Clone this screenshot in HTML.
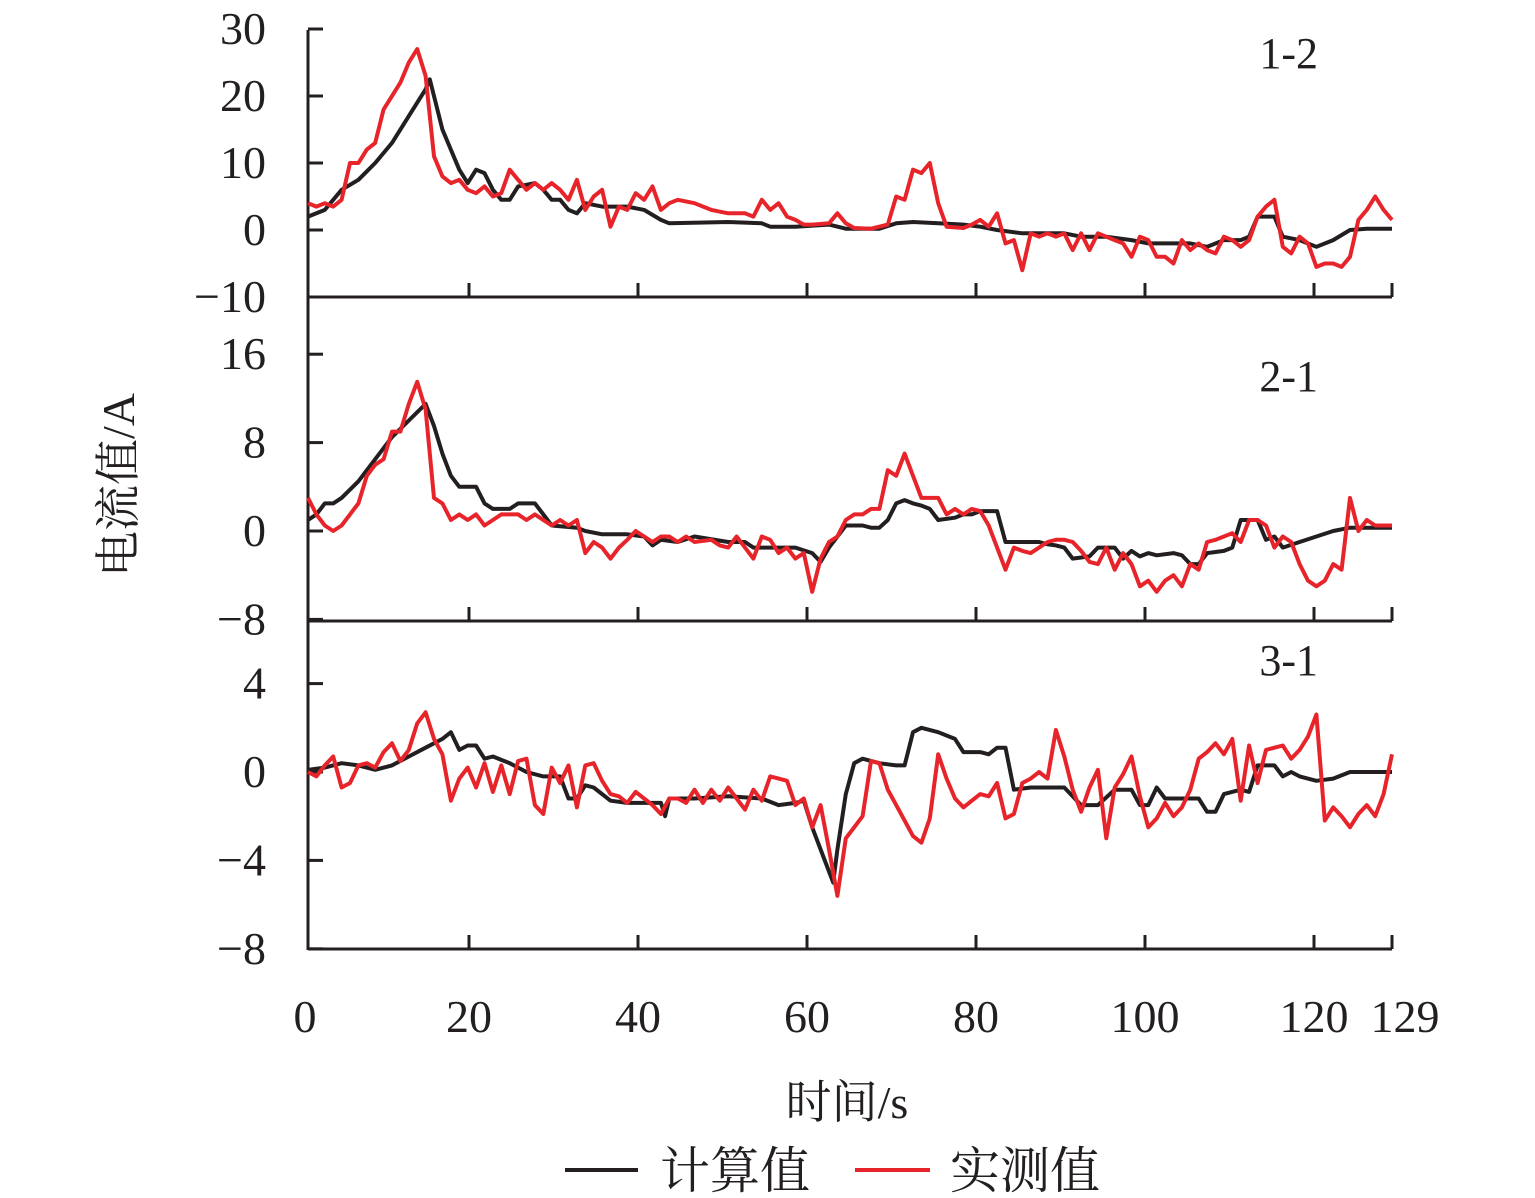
<!DOCTYPE html>
<html><head><meta charset="utf-8"><style>
html,body{margin:0;padding:0;background:#fff;}
svg{display:block;}
text{font-family:"Liberation Serif","Noto Serif CJK SC",serif;fill:#231f20;}
</style></head><body>
<svg id="chart" width="1535" height="1198" viewBox="0 0 1535 1198" xmlns="http://www.w3.org/2000/svg"></svg>
<script>
const xTicks=[0,20,40,60,80,100,120,129];
const p1Ticks=[30,20,10,0,-10];
const p2Ticks=[16,8,0,-8];
const p3Ticks=[4,0,-4,-8];
const panelLabels=["1-2","2-1","3-1"];

const p1CalcT=[0,2,4,6,8,10,12,14,14.5,16,18,19,20,21,22,23,24,25,27,28,29,30,31,32,33,35,38,40,42,43,50,54,55,58,62,64,68,70,72,75,78,80,82,85,90,92,95,98,100,105,107,109,111,112,113,115,116,118,120,122,124,126,129];
const p1CalcV=[2,3,6,7.5,10,13,17,21,22.5,15,9,7,9,8.5,6,4.5,4.5,6.5,7,6,4.5,4.5,3,2.5,4,3.5,3.5,3,1.5,1,1.2,1,0.5,0.5,0.8,0.2,0.2,1,1.2,1,0.8,0.5,0,-0.5,-0.5,-1,-1,-1.5,-2,-2,-2.5,-1.5,-1.5,-1,2,2,-1,-1.5,-2.5,-1.5,0,0.2,0.2];
const p1MeasT=[0,1,2,3,4,5,6,7,8,9,10,11,12,13,14,15,16,17,18,19,20,21,22,23,24,25,26,27,28,29,30,31,32,33,34,35,36,37,38,39,40,41,42,43,44,46,48,50,52,53,54,55,56,57,58,59,60,62,63,64,65,67,69,70,71,72,73,74,75,76,78,79,80,81,82,83,84,85,86,87,88,89,90,91,92,93,94,95,96,97,98,99,100,101,102,103,104,105,106,107,108,109,110,111,112,113,114,115,116,117,118,119,120,121,122,123,124,125,126,127,128,129];
const p1MeasV=[4,3.5,4,3.5,4.5,10,10,12,13,18,20,22,25,27,23,11,8,7,7.5,6,5.5,6.5,5,5.5,9,7.5,6,7,6,7,6,4.5,7.5,3,5,6,0.5,3.5,3,5.5,4.5,6.5,3,4,4.5,4,3,2.5,2.5,2,4.5,3,4,2,1.5,0.8,0.8,1,2.5,1,0.3,0.2,0.8,5,4.5,9,8.5,10,4,0.5,0.3,0.8,1.5,0.5,2.5,-2,-1.5,-6,-0.5,-1,-0.5,-1,-0.5,-3,-0.5,-3,-0.5,-1,-1.5,-2,-4,-1,-1.5,-4,-4,-5,-1.5,-3,-2,-3,-3.5,-1,-1.5,-2.5,-1.5,2,3.5,4.5,-2.5,-3.5,-1,-2,-5.5,-5,-5,-5.5,-4,1.5,3,5,3,1.5];

const p2CalcT=[0,1,2,3,4,6,8,10,12,14,15,16,17,18,19,20,21,22,24,25,27,28,29,32,33,35,38,40,41,42,44,46,50,52,53,56,58,60,61,62,63,64,66,67,68,69,70,71,72,73,74,75,77,78,79,80,82,83,87,88,89,90,91,93,94,96,97,98,99,100,101,103,104,105,106,107,109,110,111,113,114,115,116,118,120,122,124,129];
const p2CalcV=[1,1.5,2.5,2.5,3,4.5,6.5,8.5,10,11.5,9.5,7,5,4,4,4,2.5,2,2,2.5,2.5,1.5,0.5,0.3,0,-0.3,-0.3,-0.5,-1.3,-0.8,-1,-0.5,-1,-1,-1.5,-1.5,-1.5,-2,-2.8,-1.5,-0.5,0.5,0.5,0.3,0.3,1,2.5,2.8,2.5,2.3,2,1,1.2,1.5,1.5,1.8,1.8,-1,-1,-1.2,-1.3,-1.5,-2.5,-2.3,-1.5,-1.5,-2.5,-1.8,-2.3,-2,-2.2,-2,-2.2,-3,-3,-2,-1.8,-1.5,1,1,-0.8,-0.5,-1.5,-1,-0.5,0,0.3,0.3];
const p2MeasT=[0,1,2,3,4,5,6,7,8,9,10,11,12,13,14,15,16,17,18,19,20,21,22,23,24,25,26,27,28,29,30,31,32,33,34,35,36,37,38,39,40,41,42,43,44,45,46,48,49,50,51,52,53,54,55,56,57,58,59,60,61,62,63,64,65,66,67,68,69,70,71,72,73,74,75,76,77,78,79,80,81,82,83,84,85,86,87,88,89,90,91,92,93,94,95,96,97,98,99,100,101,102,103,104,105,106,107,108,109,110,111,112,113,114,115,116,117,118,119,120,121,122,123,124,125,126,127,128,129];
const p2MeasV=[3,1.5,0.5,0,0.5,1.5,2.5,5,6,6.5,9,9,11.5,13.5,11,3,2.5,1,1.5,1,1.5,0.5,1,1.5,1.5,1.5,1,1.5,1,0.5,1,0.5,1,-2,-1,-1.5,-2.5,-1.5,-0.8,0,-0.5,-1,-0.5,-0.5,-1,-0.5,-1,-0.8,-1.3,-1.5,-0.5,-1.5,-2.5,-0.5,-0.8,-2,-1.5,-2.5,-2,-5.5,-2.5,-1,-0.5,1,1.5,1.5,2,2,5.5,5,7,5,3,3,3,1.5,2,1.5,2,1.8,0.5,-1.5,-3.5,-1.5,-1.8,-2,-1.5,-1,-0.8,-0.8,-1,-1.8,-2.8,-3,-1.5,-3.5,-2,-3,-5,-4.5,-5.5,-4.5,-4,-5,-3,-3.5,-1,-0.8,-0.5,-0.2,-1,1,1,0.5,-1.5,-0.5,-1,-3,-4.5,-5,-4.5,-3,-3.5,3,0,1,0.5,0.5,0.5];

const p3CalcT=[0,2,4,6,8,10,12,14,16,17,18,19,20,21,22,24,26,28,30,31,32,33,34,36,38,40,42,42.5,43,46,50,54,56,58,59,60,61,62,62.5,63,64,65,66,68,70,71,72,73,75,77,78,80,81,82,83,84,86,88,90,92,94,96,98,99,100,101,102,104,106,107,108,109,111,112,113,115,116,117,118,120,122,124,126,129];
const p3CalcV=[0.1,0.2,0.4,0.3,0.1,0.3,0.7,1.1,1.5,1.8,1,1.2,1.2,0.6,0.7,0.4,0,-0.2,-0.2,-1.2,-1.2,-0.6,-0.7,-1.3,-1.4,-1.4,-1.4,-2,-1.2,-1.2,-1.1,-1.2,-1.5,-1.4,-1.3,-2.5,-3.5,-4.5,-5,-3.5,-1,0.4,0.6,0.4,0.3,0.3,1.8,2,1.8,1.5,0.9,0.9,0.8,1.1,1.1,-0.8,-0.7,-0.7,-0.7,-1.5,-1.5,-0.8,-0.8,-1.5,-1.5,-0.7,-1.2,-1.2,-1.2,-1.8,-1.8,-1,-0.8,-0.9,0.3,0.3,-0.2,0,-0.2,-0.4,-0.3,0,0,0];
const p3MeasT=[0,1,2,3,4,5,6,7,8,9,10,11,12,13,14,15,16,17,18,19,20,21,22,23,24,25,26,27,28,29,30,31,32,33,34,35,36,37,38,39,40,41,42,43,44,45,46,47,48,49,50,51,52,53,54,55,56,57,58,59,60,61,62,63,64,65,66,67,68,69,70,71,72,73,74,75,76,77,78,79,80,81,82,83,84,85,86,87,88,89,90,91,92,93,94,95,96,97,98,99,100,101,102,103,104,105,106,107,108,109,110,111,112,113,114,115,116,117,118,119,120,121,122,123,124,125,126,127,128,129];
const p3MeasV=[0,-0.2,0.3,0.7,-0.7,-0.5,0.3,0.4,0.2,0.9,
1.3,0.5,1,2.2,2.7,1.5,0.8,-1.3,-0.3,0.2,
-0.7,0.4,-0.9,0.3,-1,0.5,0.6,-1.5,-1.9,0.2,
-0.5,0.3,-1.6,0.3,0.4,-0.4,-1,-1.1,-1.4,-0.9,
-1.2,-1.5,-1.9,-1.2,-1.2,-1.4,-0.8,-1.4,-0.8,-1.3,
-0.7,-1.2,-1.7,-0.8,-1.3,-0.2,-0.3,-0.4,-1.5,-1.2,
-2.5,-1.5,-3.5,-5.6,-3,-2.5,-2,0.5,0.4,-0.8,
-1.5,-2.2,-2.9,-3.2,-2.1,0.8,-0.3,-1.2,-1.6,-1.3,
-1,-1.1,-0.5,-2.1,-1.9,-0.5,-0.3,0,-0.3,1.9,
0.7,-0.8,-1.8,-0.7,0.1,-3,-0.7,-0.1,0.7,-1.1,
-2.5,-2.1,-1.4,-2,-1.6,-0.8,0.6,0.9,1.3,0.8,
1.5,-1.3,1.2,-0.5,1,1.1,1.2,0.6,1.0,1.6,
2.6,-2.2,-1.6,-2,-2.5,-1.9,-1.5,-2,-1,0.8];

const NS="http://www.w3.org/2000/svg";
const svg=document.getElementById('chart');
function mk(tag,attrs,parent){const e=document.createElementNS(NS,tag);for(const k in attrs)e.setAttribute(k,attrs[k]);(parent||svg).appendChild(e);return e;}
const AXL=308, AXR=1392;
const xs=t=>AXL+t*(AXR-AXL)/129;
const xt=t=>t===129?AXR:300+t*8.45;
const panels=[
 {name:'panel-1-2',top:30,bottom:297,zero:230,scale:6.7,ticks:p1Ticks,label:panelLabels[0],ly:68,cT:p1CalcT,cV:p1CalcV,mT:p1MeasT,mV:p1MeasV},
 {name:'panel-2-1',top:355,bottom:621,zero:531,scale:11.05,ticks:p2Ticks,label:panelLabels[1],ly:391,cT:p2CalcT,cV:p2CalcV,mT:p2MeasT,mV:p2MeasV},
 {name:'panel-3-1',top:621,bottom:949,zero:772,scale:22.1,ticks:p3Ticks,label:panelLabels[2],ly:675,cT:p3CalcT,cV:p3CalcV,mT:p3MeasT,mV:p3MeasV}
];
let ya=mk('line',{x1:AXL,y1:30,x2:AXL,y2:950,stroke:'#231f20','stroke-width':3});


panels.forEach(p=>{
 const g=mk('g',{});
 
 
 const ys=v=>p.zero-v*p.scale;
 const ax=mk('line',{x1:AXL,y1:p.bottom,x2:AXR,y2:p.bottom,stroke:'#231f20','stroke-width':3},g);
 
 
 xTicks.forEach(t=>{
  if(t===0)return;
  const tk=mk('line',{x1:xt(t),y1:p.bottom,x2:xt(t),y2:p.bottom-14,stroke:'#231f20','stroke-width':3},g);
  
  
 });
 p.ticks.forEach(v=>{
  const y=ys(v);
  const tk=mk('line',{x1:AXL,y1:y,x2:AXL+15,y2:y,stroke:'#231f20','stroke-width':3},g);
  
  
  const tx=mk('text',{x:266,y:y+15,'text-anchor':'end','font-size':46},g);
  tx.textContent=v<0?'\u2212'+(-v):String(v);
  
  
 });
 const lb=mk('text',{x:1318,y:p.ly,'text-anchor':'end','font-size':44},g);
 lb.textContent=p.label;
 
 
 const path=(T,V)=>T.map((t,i)=>(i?'L':'M')+xs(t).toFixed(1)+' '+ys(V[i]).toFixed(1)).join(' ');
 const c=mk('path',{d:path(p.cT,p.cV),fill:'none',stroke:'#231f20','stroke-width':4,'stroke-linejoin':'round'},g);
 
 
 const m=mk('path',{d:path(p.mT,p.mV),fill:'none',stroke:'#e8242b','stroke-width':4,'stroke-linejoin':'round'},g);
 
 
});
xTicks.forEach(t=>{
 const tx=mk('text',{x:t===129?1405:(t===0?305:xt(t)),y:1032,'text-anchor':'middle','font-size':46});
 tx.textContent=String(t);
 
 
});
let t1=mk('text',{x:847,y:1118,'text-anchor':'middle','font-size':46});
t1.textContent='时间/s';


let t2=mk('text',{x:0,y:0,'text-anchor':'middle','font-size':46,transform:'translate(134,485) rotate(-90)'});
t2.textContent='电流值/A';


let l1=mk('line',{x1:565,y1:1170,x2:638,y2:1170,stroke:'#231f20','stroke-width':4});


let lt1=mk('text',{x:660,y:1188,'font-size':50});
lt1.textContent='计算值';


let l2=mk('line',{x1:855,y1:1170,x2:930,y2:1170,stroke:'#e8242b','stroke-width':4});


let lt2=mk('text',{x:950,y:1188,'font-size':50});
lt2.textContent='实测值';


</script>
</body></html>
